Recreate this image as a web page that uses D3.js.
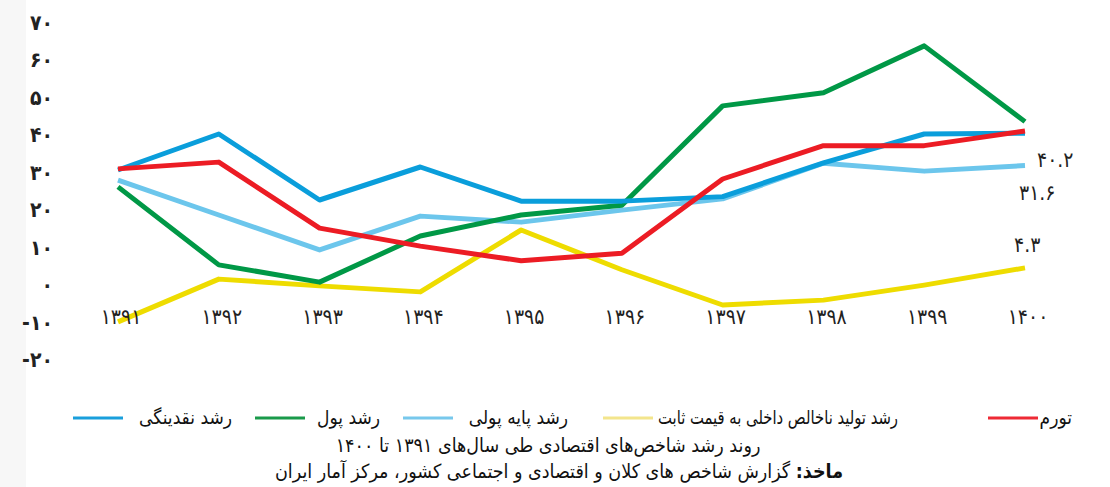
<!DOCTYPE html>
<html>
<head>
<meta charset="utf-8">
<script src="https://cdn.jsdelivr.net/npm/d3@7"></script>
<style>
  html, body { margin: 0; padding: 0; background: #fff; }
  svg { display: block; font-family: "DejaVu Sans Condensed", "DejaVu Sans", sans-serif; }
</style>
</head>
<body>
<div id="chart"></div>
<script>
// data
var years = ["1391", "1392", "1393", "1394", "1395", "1396", "1397", "1398", "1399", "1400"];
var yTicks = [-20, -10, 0, 10, 20, 30, 40, 50, 60, 70];

var liquidity = [30.4, 40, 22.4, 31.2, 22.1, 22.1, 23.3, 32.3, 40, 40.2];
var money     = [25.9, 5.1, 0.5, 12.8, 18.4, 21, 47.5, 51, 63.5, 43.3];
var baseMoney = [27.7, 18.4, 9.1, 18.1, 16.5, 19.7, 22.7, 32.2, 30.1, 31.6];
var inflation = [30.7, 32.5, 14.9, 10.1, 6.2, 8.2, 28, 36.9, 36.9, 40.8];
var gdp       = [-10.1, 1.3, -0.5, -2.1, 14.4, 3.8, -5.6, -4.3, -0.3, 4.3];

var seriesNames = ["رشد نقدینگی", "رشد پول", "رشد پایه پولی", "رشد تولید ناخالص داخلی به قیمت ثابت", "تورم"];
var endLabels = [
  { series: 2, value: 40.2, dy: 27 },
  { series: 2, value: 31.6, dy: 27 },
  { series: 3, value: 4.3, dy: -23 }
];

var width = 1110;
var height = 487;

// persian digits
function fa(s) {
  return String(s).replace(/\d/g, function (d) { return "۰۱۲۳۴۵۶۷۸۹"[+d]; });
}

var series = [
  { name: seriesNames[0], values: liquidity, color: "#0a9edb", legend: "#1a9fdc" },
  { name: seriesNames[1], values: money,     color: "#009846", legend: "#1a9a4a" },
  { name: seriesNames[2], values: baseMoney, color: "#6cc6ec", legend: "#77c8ec" },
  { name: seriesNames[3], values: gdp,       color: "#eedc00", legend: "#f3e58c" },
  { name: seriesNames[4], values: inflation, color: "#ec1c24", legend: "#ee2a35" }
];

var svg = d3.select("#chart").append("svg")
    .attr("width", width)
    .attr("height", height);

// faint grey strip on the left edge
svg.append("rect")
    .attr("x", 0).attr("y", 0)
    .attr("width", 26).attr("height", height)
    .attr("fill", "#f7f7f7");

var x = d3.scalePoint()
    .domain(years)
    .range([118, 1025]);

var y = d3.scaleLinear()
    .domain([-20, 70])
    .range([359, 21.5]);

// y axis labels
var yAxis = svg.append("g")
    .attr("transform", "translate(53,1)")
    .call(d3.axisLeft(y).tickValues(yTicks).tickSize(0).tickPadding(0)
      .tickFormat(function (d) { return fa(d); }));
yAxis.select(".domain").remove();
yAxis.selectAll("text")
    .attr("font-family", "DejaVu Sans Condensed, DejaVu Sans")
    .attr("font-size", 21)
    .attr("font-weight", "bold")
    .attr("fill", "#222");

var line = d3.line()
    .x(function (d, i) { return x(years[i]); })
    .y(function (d) { return y(d); });

// drawing order: yellow, light blue, green, blue, red
var drawOrder = [3, 2, 1, 0, 4];
svg.selectAll(".seriesLine")
    .data(drawOrder.map(function (i) { return series[i]; }))
    .enter()
    .append("path")
    .attr("class", "seriesLine")
    .attr("d", function (d) { return line(d.values); })
    .attr("fill", "none")
    .attr("stroke", function (d) { return d.color; })
    .attr("stroke-width", 5)
    .attr("stroke-linejoin", "round");

// year labels (on top of the lines)
svg.selectAll(".yearLabel")
    .data(years)
    .enter()
    .append("text")
    .attr("class", "yearLabel")
    .attr("x", function (d) { return x(d) + 3; })
    .attr("y", 324)
    .attr("text-anchor", "middle")
    .attr("font-size", 21)
    .attr("fill", "#222")
    .text(function (d) { return fa(d); });

// value labels at the end
svg.selectAll(".endLabel")
    .data(endLabels)
    .enter()
    .append("text")
    .attr("class", "endLabel")
    .attr("x", function (d, i) { return x("1400") + [12, -6, -11][i]; })
    .attr("y", function (d) { return y(d.value) + d.dy + 7; })
    .attr("font-size", 21)
    .attr("fill", "#222")
    .text(function (d) { return fa(d.value.toFixed(1)); });

// legend, laid out right to left
var legendItems = [
  { s: 4, textRight: 1072, swatch: 988 },
  { s: 3, textRight: 898, swatch: 603, fit: 240 },
  { s: 2, textRight: 568, swatch: 403 },
  { s: 1, textRight: 380, swatch: 255 },
  { s: 0, textRight: 232, swatch: 73 }
];
var legend = svg.selectAll(".legendItem")
    .data(legendItems)
    .enter()
    .append("g")
    .attr("class", "legendItem");

legend.append("line")
    .attr("x1", function (d) { return d.swatch; })
    .attr("x2", function (d) { return d.swatch + 50; })
    .attr("y1", 418)
    .attr("y2", 418)
    .attr("stroke", function (d) { return series[d.s].legend; })
    .attr("stroke-width", 3);

legend.append("text")
    .attr("x", function (d) { return d.textRight; })
    .attr("y", 424)
    .attr("direction", "rtl")
    .attr("text-anchor", "start")
    .attr("font-size", 19)
    .attr("fill", "#111")
    .each(function (d) {
      if (d.fit) d3.select(this).attr("textLength", d.fit).attr("lengthAdjust", "spacingAndGlyphs");
    })
    .text(function (d) { return series[d.s].name; });

// caption
svg.append("text")
    .attr("x", 548)
    .attr("y", 452)
    .attr("direction", "rtl")
    .attr("text-anchor", "middle")
    .attr("font-size", 19.5)
    .attr("fill", "#111")
    .text("روند رشد شاخص‌های اقتصادی طی سال‌های " + fa("1391") + " تا " + fa("1400"));

var source = svg.append("text")
    .attr("x", 559)
    .attr("y", 478)
    .attr("direction", "rtl")
    .attr("text-anchor", "middle")
    .attr("font-size", 19.5)
    .attr("fill", "#111");
source.append("tspan").attr("font-weight", "bold").text("ماخذ:");
source.append("tspan").text(" گزارش شاخص های  کلان و اقتصادی و اجتماعی کشور، مرکز آمار ایران");
</script>
</body>
</html>
